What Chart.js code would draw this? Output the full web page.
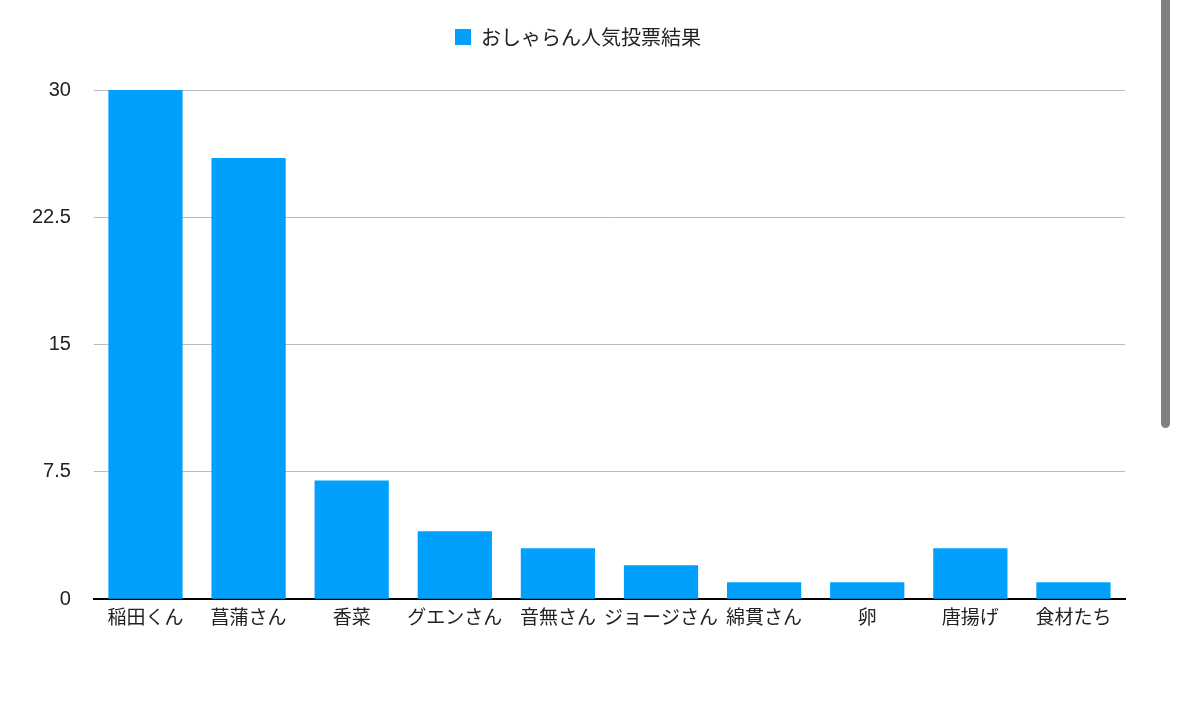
<!DOCTYPE html>
<html>
<head>
<meta charset="utf-8">
<script src="https://cdn.jsdelivr.net/npm/chart.js@4.4.1/dist/chart.umd.min.js"></script>
<style>
  html, body { margin: 0; padding: 0; background: #fff; overflow: hidden; }
  #wrap { position: absolute; left: 0; top: 0; width: 1179px; height: 701px; }
  #scroll { position: absolute; left: 1161px; top: -10px; width: 9px; height: 438px; background: #808080; border-radius: 5px; }
</style>
</head>
<body>
<div id="wrap"><canvas id="chart"></canvas></div>
<div id="scroll"></div>
<script>
// Chart data
const categories = ['稲田くん', '菖蒲さん', '香菜', 'グエンさん', '音無さん', 'ジョージさん', '綿貫さん', '卵', '唐揚げ', '食材たち'];
const votes = [30, 26, 7, 4, 3, 2, 1, 1, 3, 1];
const seriesName = 'おしゃらん人気投票結果';
const yTicks = [0, 7.5, 15, 22.5, 30];

const cjkFont = '"Noto Sans CJK JP", "Noto Sans", sans-serif';
const numFont = '"Liberation Sans", Arial, sans-serif';

// extra room between the legend and the plot, and legend nudged right
const legendGap = {
    id: 'legendGap',
    beforeUpdate(chart) {
        const legend = chart.legend;
        if (!legend || legend._gapPatched) return;
        const fit = legend.fit;
        legend.fit = function () {
            fit.call(this);
            this.height += 33;
        };
        legend._gapPatched = true;
    },
    afterLayout(chart) {
        chart.legend.left += 11;
        chart.legend.right += 11;
    }
};

new Chart(document.getElementById('chart'), {
    type: 'bar',
    data: {
        labels: categories,
        datasets: [{
            label: seriesName,
            data: votes,
            backgroundColor: '#00a0fc',
            borderWidth: 0
        }]
    },
    options: {
        responsive: true,
        maintainAspectRatio: false,
        animation: false,
        layout: { padding: { left: 9, right: 54, top: 1, bottom: 75 } },
        plugins: {
            legend: {
                position: 'top',
                labels: {
                    boxWidth: 16,
                    boxHeight: 16,
                    color: '#222',
                    font: { family: cjkFont, size: 20 },
                    padding: 26
                }
            },
            tooltip: { enabled: false }
        },
        scales: {
            y: {
                min: 0,
                max: 30,
                afterBuildTicks: (axis) => { axis.ticks = yTicks.map(v => ({ value: v })); },
                grid: { color: '#bbbbbb', drawTicks: false },
                border: { display: false },
                ticks: { color: '#222', padding: 23, font: { family: numFont, size: 20 } }
            },
            x: {
                grid: { display: false },
                border: { display: true, color: '#000', width: 2 },
                ticks: { color: '#222', padding: -2, maxRotation: 0, autoSkip: false, font: { family: cjkFont, size: 19 } }
            }
        }
    },
    plugins: [legendGap]
});
</script>
</body>
</html>
